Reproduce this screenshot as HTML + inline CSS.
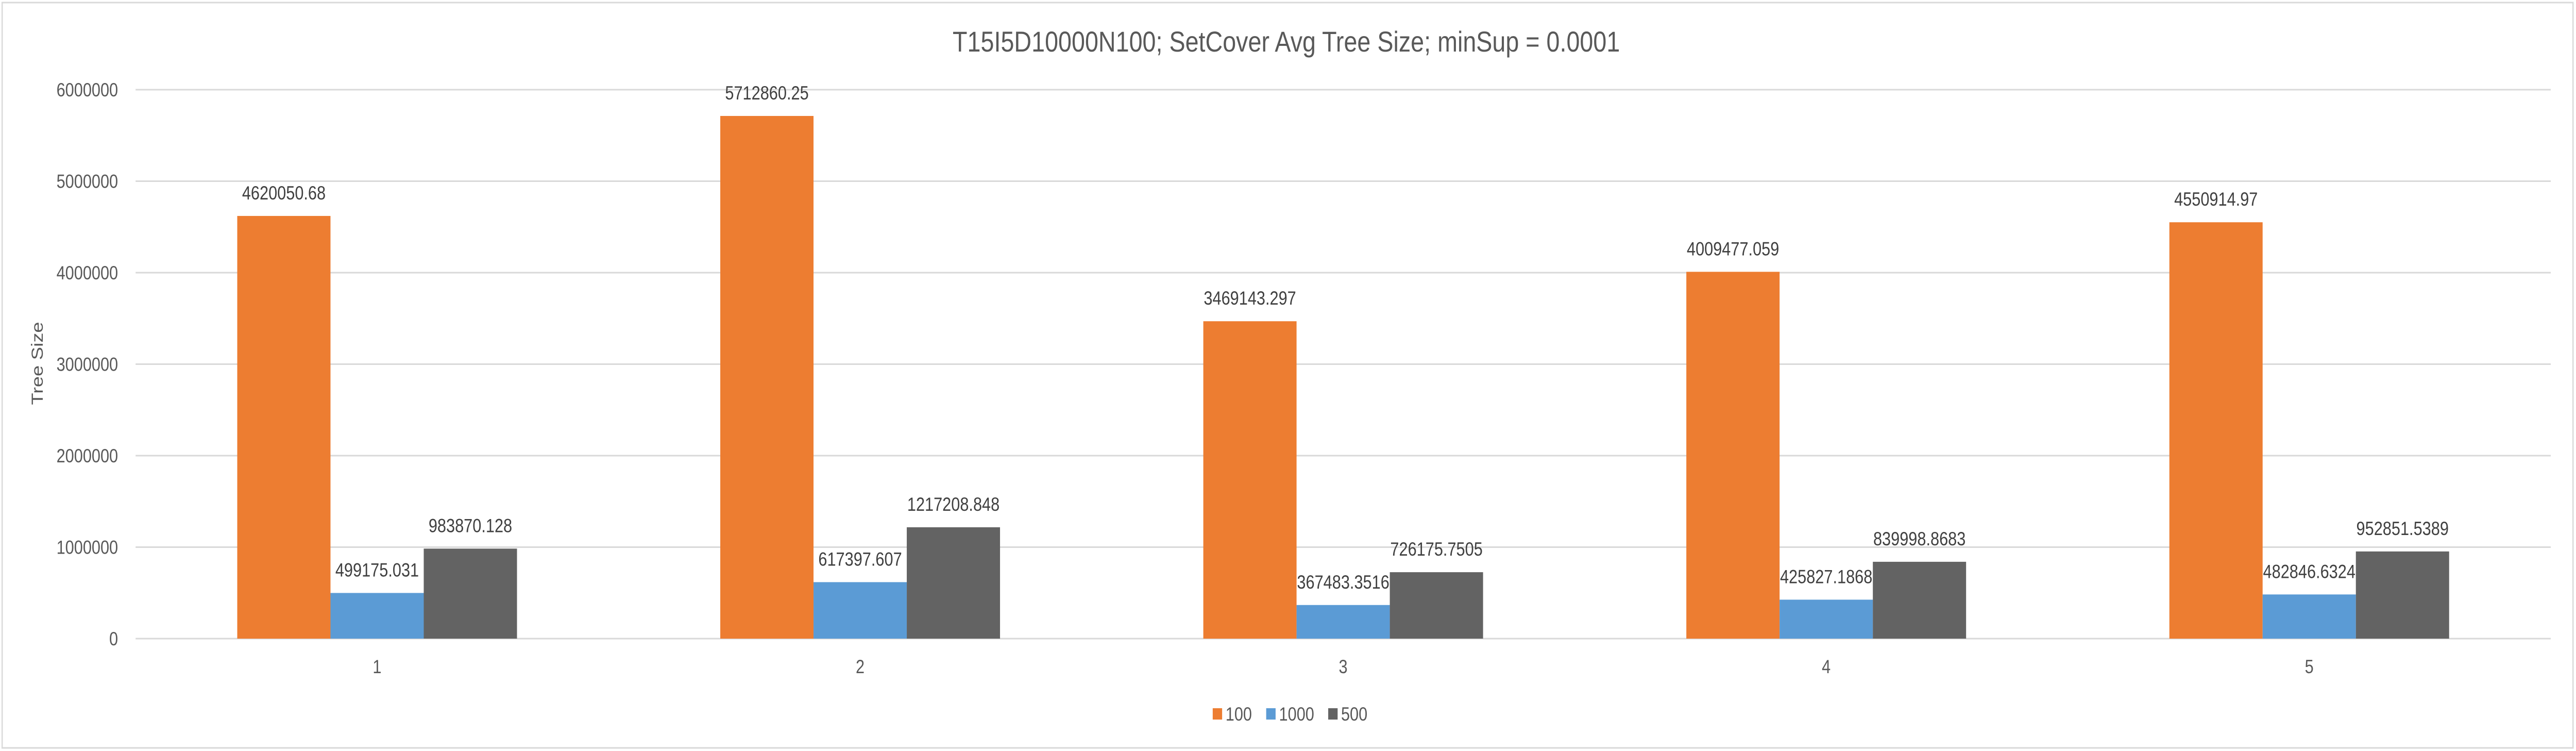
<!DOCTYPE html>
<html><head><meta charset="utf-8"><style>
html,body{margin:0;padding:0;background:#fff;width:100%;height:100%;overflow:hidden;}
svg{display:block;width:100vw;height:100vh;font-family:"Liberation Sans",sans-serif;}
</style></head><body>
<svg id="chart" viewBox="0 0 6022 1457" preserveAspectRatio="none">
<rect x="5" y="5" width="6010" height="1446" fill="#fff" stroke="#d9d9d9" stroke-width="3"/>
<text x="3007" y="100" font-size="56" fill="#595959" text-anchor="middle" textLength="1560" lengthAdjust="spacingAndGlyphs">T15I5D10000N100; SetCover Avg Tree Size; minSup = 0.0001</text>
<text transform="translate(100,705) rotate(-90)" font-size="38" fill="#595959" text-anchor="middle">Tree Size</text>
<g id="grid"></g><g id="bars"></g><g id="labels"></g><g id="legend"></g>
</svg>
<script>
const categories = ["1","2","3","4","5"];
const seriesNames = ["100","1000","500"];
const s100 = [4620050.68, 5712860.25, 3469143.297, 4009477.059, 4550914.97];
const s1000 = [499175.031, 617397.607, 367483.3516, 425827.1868, 482846.6324];
const s500 = [983870.128, 1217208.848, 726175.7505, 839998.8683, 952851.5389];
const labels100 = ["4620050.68","5712860.25","3469143.297","4009477.059","4550914.97"];
const labels1000 = ["499175.031","617397.607","367483.3516","425827.1868","482846.6324"];
const labels500 = ["983870.128","1217208.848","726175.7505","839998.8683","952851.5389"];
const yTicks = [0,1000000,2000000,3000000,4000000,5000000,6000000];

const NS="http://www.w3.org/2000/svg";
const colors=["#ED7D31","#5B9BD5","#636363"];
const L=317,R=5963,T=174,B=1239,yMax=6000000;
const y=v=>B-(v/yMax)*(B-T);
const band=(R-L)/categories.length;
const barW=218;
const x=i=>L+band*(i+0.5);
function mk(tag,attrs,parent){const e=document.createElementNS(NS,tag);for(const k in attrs)e.setAttribute(k,attrs[k]);parent.appendChild(e);return e;}
const grid=document.getElementById('grid'),bars=document.getElementById('bars'),lab=document.getElementById('labels'),leg=document.getElementById('legend');
yTicks.forEach(t=>{
  const l=mk('line',{x1:L,x2:R,y1:y(t),y2:y(t),stroke:'#d9d9d9','stroke-width':3},grid);
  
  
  const tx=mk('text',{x:276,y:y(t)+13,'font-size':37,fill:'#595959','text-anchor':'end'},grid);
  tx.textContent=String(t);
  
  
});
const series=[s100,s1000,s500],slabels=[labels100,labels1000,labels500];
categories.forEach((c,i)=>{
  series.forEach((s,j)=>{
    const bx=x(i)-1.5*barW+j*barW;
    const r=mk('rect',{x:bx,y:y(s[i]),width:barW,height:B-y(s[i]),fill:colors[j]},bars);
    
    
    const t=mk('text',{x:bx+barW/2,y:y(s[i])-32,'font-size':37,fill:'#404040','text-anchor':'middle'},lab);
    t.textContent=slabels[j][i];
    
    
  });
  const ct=mk('text',{x:x(i),y:1306,'font-size':37,fill:'#595959','text-anchor':'middle'},lab);
  ct.textContent=c;
  
  
});
const legX=[2835,2960,3105];
seriesNames.forEach((n,j)=>{
  const g=mk('g',{},leg);
  
  
  mk('rect',{x:legX[j],y:1374,width:22,height:22,fill:colors[j]},g);
  const t=mk('text',{x:legX[j]+30,y:1398,'font-size':37,fill:'#595959'},g);
  t.textContent=n;
});
</script>
</body></html>
